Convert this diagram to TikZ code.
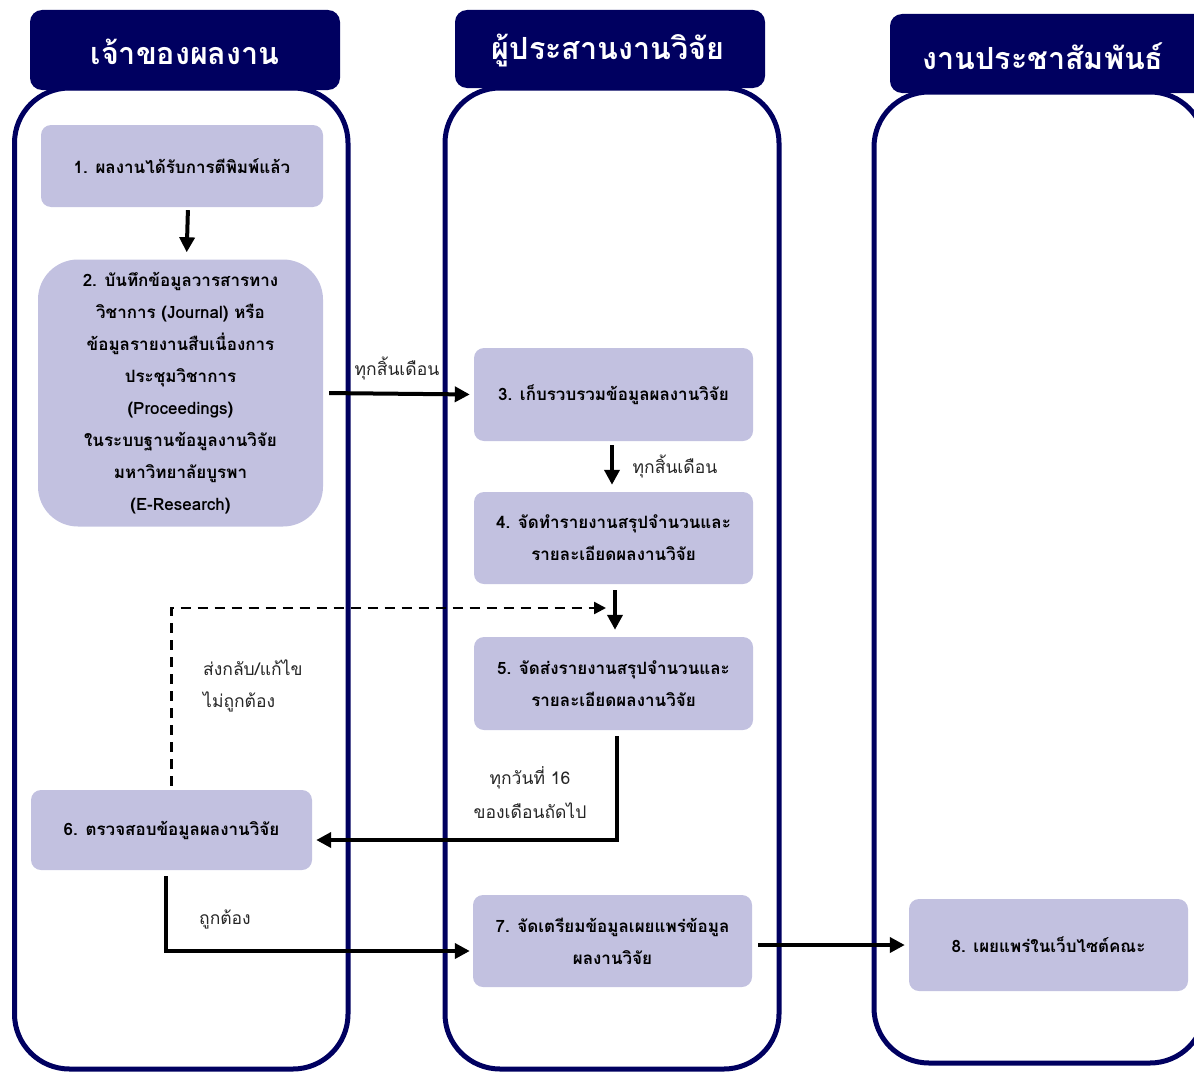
\documentclass[tikz,border=0pt]{standalone}
\usepackage{fontspec}
\setmainfont[Script=Thai]{Loma}
\usetikzlibrary{arrows.meta}
\definecolor{navy}{RGB}{0,0,96}
\definecolor{boxfill}{RGB}{194,193,224}
\begin{document}
\begin{tikzpicture}[x=1pt,y=-1pt,
 lane/.style={draw=navy,line width=5pt,rounded corners=55pt},
 tab/.style={fill=navy,rounded corners=12pt},
 tabtext/.style={text=white,font=\bfseries\fontsize{30.5}{34}\selectfont},
 stepbox/.style={fill=boxfill,rounded corners=10pt,align=center,inner sep=0pt,
   font=\bfseries\fontsize{17}{32}\selectfont},
 flow/.style={line width=4pt,-{Triangle[length=15pt,width=15pt]}},
 dashflow/.style={line width=2.5pt,dash pattern=on 10pt off 7pt,-{Triangle[length=12pt,width=12pt]}},
 lbl/.style={font=\fontsize{17.5}{33}\selectfont,text=black!85,inner sep=0pt}
]
\useasboundingbox (0,0) rectangle (1194,1073);
\clip (0,0) rectangle (1194,1073);
% lanes
\draw[lane] (14.5,88) rectangle (348,1069);
\draw[lane] (445,88) rectangle (779,1069);
\draw[lane] (874,92) rectangle (1205,1063);
% tabs
\fill[tab] (30,10) rectangle (340,90);
\fill[tab] (455,10) rectangle (765,88);
\fill[tab] (890,14) rectangle (1215,93);
\node[tabtext] (h1) at (185,52) {เจ้าของผลงาน};
\node[tabtext] (h2) at (608,51) {ผู้ประสานงานวิจัย};
\node[tabtext] (h3) at (1043,56) {งานประชาสัมพันธ์};
% steps
\node[stepbox,minimum width=282pt,minimum height=82pt] (b1) at (182,166) {1. ผลงานได้รับการตีพิมพ์แล้ว};
\node[stepbox,rounded corners=40pt,minimum width=285pt,minimum height=267pt] (b2) at (180.5,393)
 {2. บันทึกข้อมูลวารสารทาง\\วิชาการ (Journal) หรือ\\ข้อมูลรายงานสืบเนื่องการ\\ประชุมวิชาการ\\(Proceedings)\\ในระบบฐานข้อมูลงานวิจัย\\มหาวิทยาลัยบูรพา\\(E-Research)};
\node[stepbox,minimum width=279pt,minimum height=93pt] (b3) at (613.5,394.5) {3. เก็บรวบรวมข้อมูลผลงานวิจัย};
\node[stepbox,minimum width=279pt,minimum height=92pt] (b4) at (613.5,538) {4. จัดทำรายงานสรุปจำนวนและ\\รายละเอียดผลงานวิจัย};
\node[stepbox,minimum width=279pt,minimum height=93pt] (b5) at (613.5,683.5) {5. จัดส่งรายงานสรุปจำนวนและ\\รายละเอียดผลงานวิจัย};
\node[stepbox,minimum width=281pt,minimum height=80pt] (b6) at (171.5,830) {6. ตรวจสอบข้อมูลผลงานวิจัย};
\node[stepbox,minimum width=279pt,minimum height=92pt] (b7) at (612.5,941) {7. จัดเตรียมข้อมูลเผยแพร่ข้อมูล\\ผลงานวิจัย};
\node[stepbox,minimum width=279pt,minimum height=92pt] (b8) at (1048.5,945) {8. เผยแพร่ในเว็บไซต์คณะ};
% connectors
\draw[flow,shorten <=3pt,shorten >=7pt] ([xshift=6pt]b1.south) -- ([xshift=6pt]b2.north);
\draw[flow,shorten <=6pt,shorten >=4pt] (b2.east) -- (b3.west);
\draw[flow,shorten <=4pt,shorten >=7pt] ([xshift=-1.5pt]b3.south) -- ([xshift=-1.5pt]b4.north);
\draw[flow,shorten <=6pt,shorten >=7pt] ([xshift=1.5pt]b4.south) -- ([xshift=1.5pt]b5.north);
\draw[flow,shorten <=6pt,shorten >=4pt] ([xshift=3.5pt]b5.south) |- ([yshift=-10pt]b6.east);
\coordinate (dashend) at (606,608);
\draw[dashflow,shorten <=4pt] (b6.north) |- (dashend);
\draw[flow,shorten <=6pt,shorten >=3pt] ([xshift=-5.5pt]b6.south) |- ([yshift=-10pt]b7.west);
\draw[flow,shorten <=6pt,shorten >=4pt] (b7.east |- b8.west) -- (b8.west);
% labels
\node[lbl] (l1) at (397,369) {ทุกสิ้นเดือน};
\node[lbl] (l2) at (675,467) {ทุกสิ้นเดือน};
\node[lbl,anchor=west] (l3) at (203,668) {ส่งกลับ/แก้ไข};
\node[lbl,anchor=west] (l4) at (203,702) {ไม่ถูกต้อง};
\node[lbl] (l5) at (530,778) {ทุกวันที่ 16};
\node[lbl] (l6) at (530,811) {ของเดือนถัดไป};
\node[lbl] (l7) at (225,919) {ถูกต้อง};
\end{tikzpicture}
\end{document}
